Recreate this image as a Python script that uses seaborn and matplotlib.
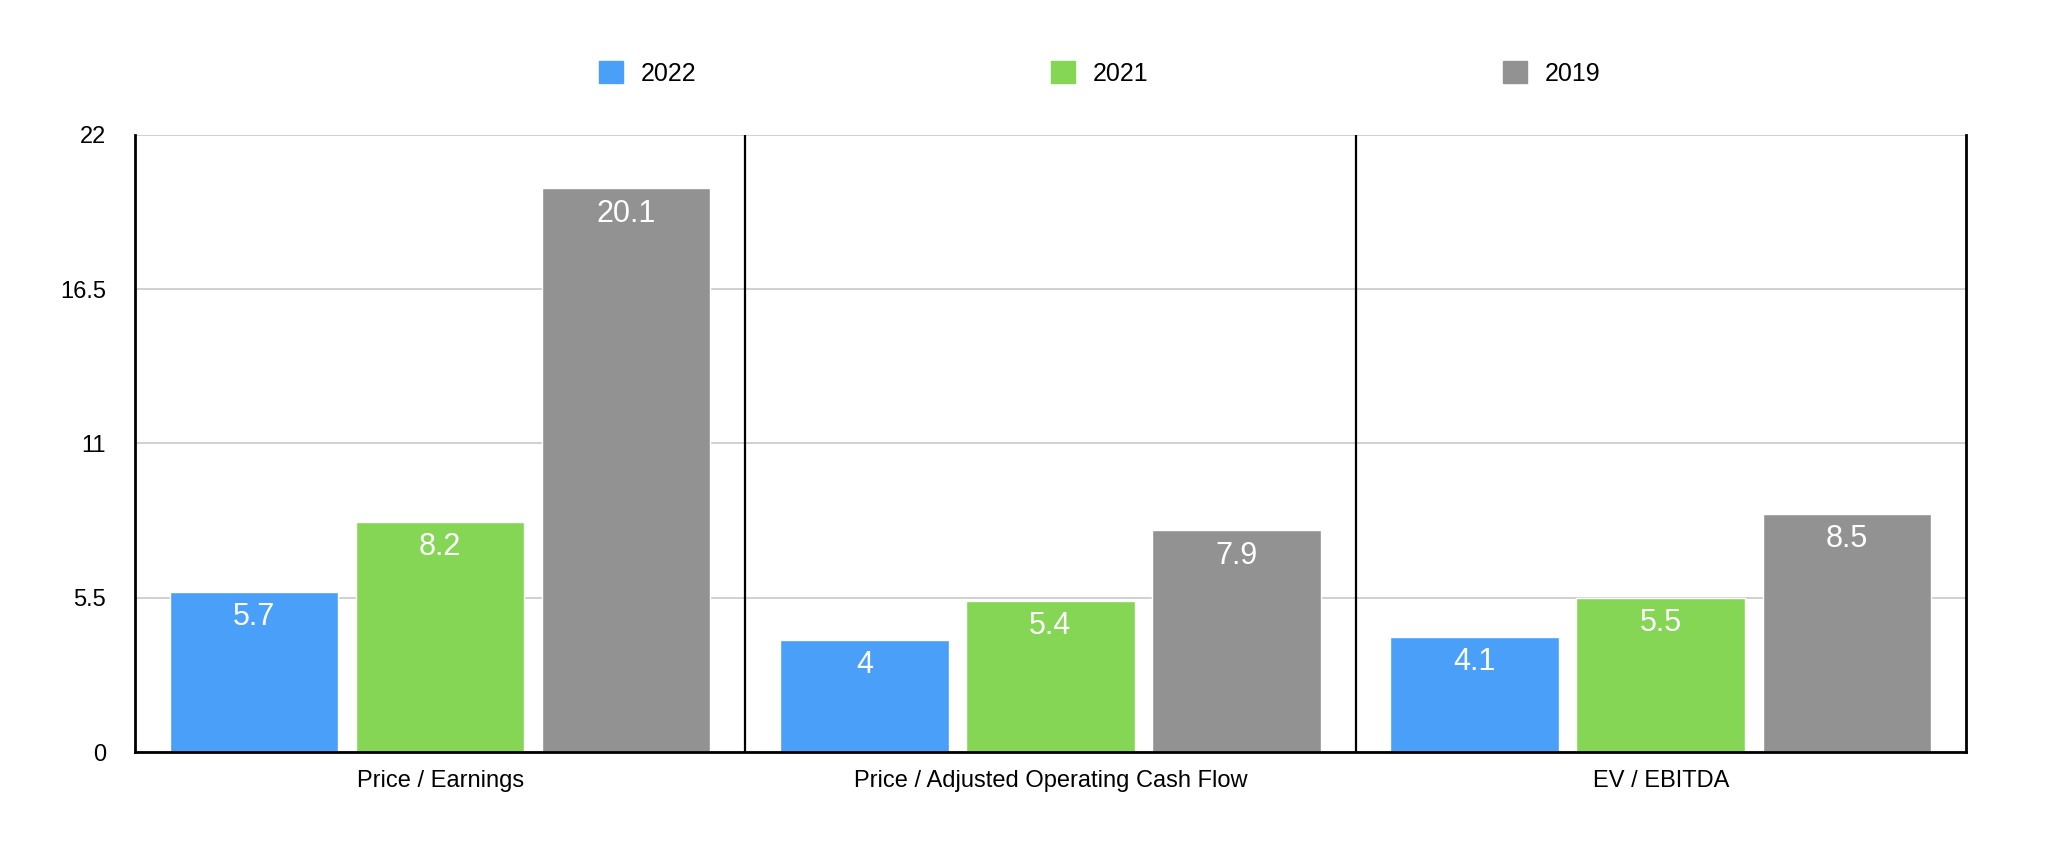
import pandas as pd
import matplotlib
matplotlib.use("Agg")
import matplotlib.pyplot as plt
import seaborn as sns

# values
metrics = ["Price / Earnings", "Price / Adjusted Operating Cash Flow", "EV / EBITDA"]
years = ["2022", "2021", "2019"]
v2022 = [5.7, 4.0, 4.1]
v2021 = [8.2, 5.4, 5.5]
v2019 = [20.1, 7.9, 8.5]
yticks = [0, 5.5, 11, 16.5, 22]
colors = ["#4A9FF8", "#84D654", "#929292"]

rows = []
for yr, vals in zip(years, [v2022, v2021, v2019]):
    for m, v in zip(metrics, vals):
        rows.append({"metric": m, "year": yr, "value": v})
df = pd.DataFrame(rows)

sns.set_style("white")
plt.rcParams["font.family"] = ["Liberation Sans", "DejaVu Sans"]
plt.rcParams["text.color"] = "black"
plt.rcParams["xtick.color"] = "black"
plt.rcParams["ytick.color"] = "black"

fig = plt.figure(figsize=(20.48, 8.64), dpi=100)
ax = fig.add_axes([0.0659, 0.1296, 0.894, 0.7142])

sns.barplot(data=df, x="metric", y="value", hue="year", order=metrics,
            hue_order=years, palette=colors, width=0.915, gap=0.095,
            saturation=1, errorbar=None, legend=False, ax=ax)

for cont in ax.containers:
    ax.bar_label(cont, fmt="{:g}", color="white", fontsize=22, padding=-29)

ax.set_ylim(0, 22)
ax.set_xlim(-0.5, 2.5)
ax.set_yticks(yticks)
ax.set_yticklabels(["{:g}".format(t) for t in yticks])
ax.yaxis.grid(True, color="#c8c8c8", linewidth=1.2)
ax.set_axisbelow(True)
for xs in [0.5, 1.5]:
    ax.axvline(xs, color="black", linewidth=1.6)
ax.set_xlabel("")
ax.set_ylabel("")
ax.tick_params(axis="y", length=0, pad=21, labelsize=17)
ax.tick_params(axis="x", length=0, pad=13, labelsize=17)
ax.spines["top"].set_visible(False)
for s in ["left", "bottom", "right"]:
    ax.spines[s].set_color("black")
    ax.spines[s].set_linewidth(2)

handles = [plt.Rectangle((0, 0), 1, 1, color=c) for c in colors]
fig.legend(handles, years, loc="center", bbox_to_anchor=(0.537, 0.915),
           ncol=3, frameon=False, fontsize=18, handlelength=0.95,
           handleheight=1.0, handletextpad=0.7, columnspacing=14.2)

fig.savefig("out.png", dpi=100)
